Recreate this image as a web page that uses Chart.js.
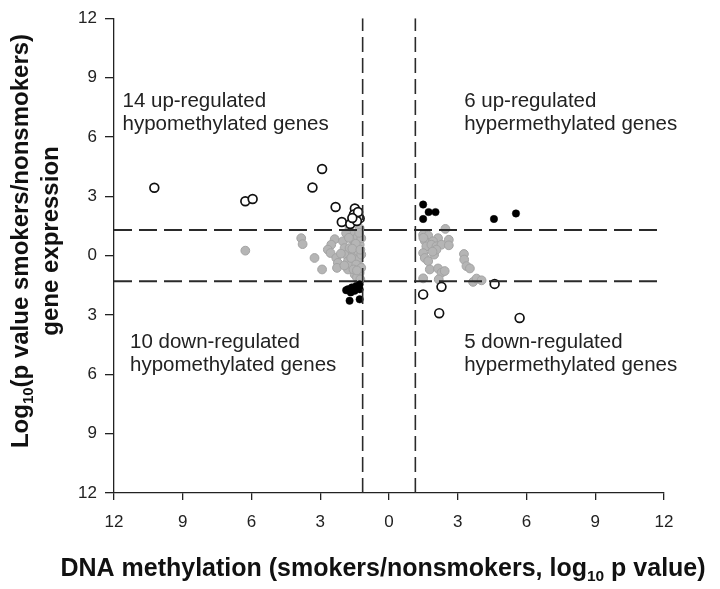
<!DOCTYPE html>
<html>
<head>
<meta charset="utf-8">
<script src="https://cdn.jsdelivr.net/npm/chart.js@4.4.1/dist/chart.umd.min.js"></script>
<style>
html,body{margin:0;padding:0;background:#fff;}
#wrap{width:720px;height:589px;position:relative;}
</style>
</head>
<body>
<div id="wrap"><canvas id="c" width="720" height="589"></canvas></div>
<script>
// ---- data (log10 p values; negative x = hypomethylated, negative y = down-regulated) ----
const axisTicks = [-12, -9, -6, -3, 0, 3, 6, 9, 12];
const methThreshold = 1.15;
const exprThreshold = 1.3;

// open circles: up-regulated hypomethylated (upper left) + down-regulated hypermethylated (lower right)
const openPoints = [
  [-10.24, 3.43], [-6.27, 2.75], [-5.95, 2.86], [-3.34, 3.44], [-2.92, 4.38],
  [-2.33, 2.46], [-1.49, 2.38], [-1.53, 2.08], [-1.28, 1.88], [-2.06, 1.70],
  [-1.69, 1.60], [-1.40, 1.75], [-1.35, 2.20], [-1.60, 1.90],
  [2.29, -1.58], [4.61, -1.43], [1.49, -1.96], [2.19, -2.91], [5.70, -3.15]
];

// black dots: up-regulated hypermethylated (upper right) + down-regulated hypomethylated (lower left)
const blackPoints = [
  [1.49, 2.58], [1.73, 2.20], [2.03, 2.20], [1.49, 1.85], [4.58, 1.85], [5.54, 2.13],
  [-1.79, -1.70], [-1.62, -1.61], [-1.43, -1.53], [-1.28, -1.45], [-1.67, -1.86],
  [-1.50, -1.78], [-1.28, -1.70], [-1.72, -2.28], [-1.28, -2.21], [-1.87, -1.75]
];

// grey dots: not significant
const greyPoints = [
  // right cluster
  [2.46, 1.35], [1.49, 1.05], [1.71, 1.01], [1.56, 0.75], [2.14, 0.88], [1.92, 0.72],
  [2.61, 0.80], [1.63, 0.47], [1.85, 0.55], [2.07, 0.47], [2.29, 0.55], [2.61, 0.52],
  [1.49, 0.13], [1.56, -0.12], [1.71, -0.28], [1.97, 0.05], [3.27, 0.08], [3.28, -0.20],
  [3.38, -0.53], [3.53, -0.65], [1.78, -0.70], [2.14, -0.65], [2.29, -0.87], [2.43, -0.78],
  [1.49, -1.15], [2.17, -1.20], [3.67, -1.33], [3.82, -1.16], [4.04, -1.25], [2.07, 0.30],
  [1.50, 0.90], [1.90, 0.20],
  // left cluster
  [-6.27, 0.25], [-3.83, 0.88], [-3.77, 0.58], [-3.25, -0.12], [-2.92, -0.70], [-2.37, 0.83],
  [-2.52, 0.55], [-2.67, 0.30], [-2.55, 0.13], [-2.30, -0.12], [-2.23, -0.37], [-2.27, -0.62],
  [-2.01, 0.72], [-1.94, 0.38], [-1.87, 0.05], [-1.79, -0.28], [-1.79, -0.70], [-1.72, 1.46],
  [-1.65, 1.13], [-1.57, 0.80], [-1.50, 0.55], [-1.43, 0.22], [-1.36, -0.20], [-1.28, -0.53],
  [-1.28, -0.87], [-1.50, -0.95], [-1.65, -0.45], [-1.57, 0.13], [-1.28, 1.38], [-1.36, 0.96],
  [-1.28, 0.55], [-1.72, 0.38], [-1.87, 1.13], [-1.65, -0.12], [-1.43, -0.45], [-1.36, 0.22],
  [-1.21, 0.88], [-1.21, 0.05], [-1.21, -0.62], [-1.40, -1.10], [-1.25, -1.20], [-1.55, -0.70],
  [-1.45, 0.60], [-1.30, 1.15], [-1.60, 0.35], [-1.95, -0.50], [-2.10, 0.10], [-1.25, 0.30],
  [-1.40, -0.75], [-1.75, 0.90]
];

const quadrantTexts = [
  {x: -11.63, y: 7.8,  lines: ['14 up-regulated', 'hypomethylated genes']},
  {x: 3.28,   y: 7.8,  lines: ['6 up-regulated', 'hypermethylated genes']},
  {x: -11.3,  y: -4.4, lines: ['10 down-regulated', 'hypomethylated genes']},
  {x: 3.28,   y: -4.4, lines: ['5 down-regulated', 'hypermethylated genes']}
];

const toXY = arr => arr.map(p => ({x: p[0], y: p[1]}));
const FONT = '"Liberation Sans", Arial, Helvetica, sans-serif';

const titlePlugin = {
  id: 'titles',
  afterDraw(chart) {
    const ctx = chart.ctx;
    const xs = chart.scales.x, ys = chart.scales.y;
    ctx.save();
    ctx.fillStyle = '#222';
    // quadrant labels
    ctx.font = '20.5px ' + FONT;
    ctx.textAlign = 'left';
    ctx.textBaseline = 'middle';
    quadrantTexts.forEach(q => {
      const px = xs.getPixelForValue(q.x);
      const py = ys.getPixelForValue(q.y);
      q.lines.forEach((l, i) => ctx.fillText(l, px, py + i * 23));
    });

    function segWidth(segs) {
      let w = 0;
      segs.forEach(s => { ctx.font = s.font; w += ctx.measureText(s.t).width; });
      return w;
    }
    function drawSegs(segs, x, y) {
      segs.forEach(s => {
        ctx.font = s.font;
        ctx.fillText(s.t, x, y + (s.dy || 0));
        x += ctx.measureText(s.t).width;
      });
    }
    const big = 'bold 24px ' + FONT;
    const small = 'bold 15px ' + FONT;
    const bigX = 'bold 25px ' + FONT;
    const smallX = 'bold 15.5px ' + FONT;
    ctx.fillStyle = '#111';
    ctx.textAlign = 'left';
    ctx.textBaseline = 'alphabetic';
    // x title
    const xt = [
      {t: 'DNA methylation (smokers/nonsmokers, log', font: bigX},
      {t: '10', font: smallX, dy: 5},
      {t: ' p value)', font: bigX}
    ];
    const xw = segWidth(xt);
    drawSegs(xt, 383 - xw / 2, 576);

    // y title (rotated)
    ctx.save();
    ctx.rotate(-Math.PI / 2);
    const yt1 = [
      {t: 'Log', font: big},
      {t: '10', font: small, dy: 5},
      {t: '(p value smokers/nonsmokers)', font: big}
    ];
    const w1 = segWidth(yt1);
    const cy = 241;
    drawSegs(yt1, -cy - w1 / 2, 28);
    const yt2 = [{t: 'gene expression', font: big}];
    const w2 = segWidth(yt2);
    drawSegs(yt2, -cy - w2 / 2, 58);
    ctx.restore();
    ctx.restore();
  }
};

const lineDash = [18, 7];
const vDash = [15, 6];

new Chart(document.getElementById('c'), {
  type: 'scatter',
  data: {
    datasets: [
      {type: 'line', data: [{x: -12, y: exprThreshold}, {x: 12, y: exprThreshold}], borderColor: '#2a2a2a', borderWidth: 2, borderDash: lineDash, pointRadius: 0, order: 0},
      {type: 'line', data: [{x: -12, y: -exprThreshold}, {x: 12, y: -exprThreshold}], borderColor: '#2a2a2a', borderWidth: 2, borderDash: lineDash, pointRadius: 0, order: 0},
      {type: 'line', data: [{x: -methThreshold, y: -12}, {x: -methThreshold, y: 12}], borderColor: '#2a2a2a', borderWidth: 1.6, borderDash: vDash, pointRadius: 0, order: 0},
      {type: 'line', data: [{x: methThreshold, y: -12}, {x: methThreshold, y: 12}], borderColor: '#2a2a2a', borderWidth: 1.6, borderDash: vDash, pointRadius: 0, order: 0},
      {data: toXY(openPoints), backgroundColor: '#ffffff', borderColor: '#111111', borderWidth: 1.7, pointRadius: 4.4, order: 1},
      {data: toXY(blackPoints), backgroundColor: '#000000', borderColor: '#000000', borderWidth: 0.5, pointRadius: 3.7, order: 2},
      {data: toXY(greyPoints), backgroundColor: '#b5b5b5', borderColor: '#a3a3a3', borderWidth: 1, pointRadius: 4.4, order: 3}
    ]
  },
  options: {
    responsive: false,
    animation: false,
    events: [],
    layout: {padding: {left: 0, right: 56, top: 11, bottom: 0}},
    plugins: {legend: {display: false}, tooltip: {enabled: false}, title: {display: false}},
    scales: {
      x: {
        type: 'linear', min: -12, max: 12,
        afterBuildTicks: s => { s.ticks = axisTicks.map(v => ({value: v})); },
        afterFit: s => { s.height = 96; },
        ticks: {callback: v => String(Math.abs(v)), font: {family: FONT, size: 17}, color: '#222', padding: 12, maxRotation: 0, autoSkip: false},
        grid: {display: true, drawOnChartArea: false, drawTicks: true, tickLength: 7, color: '#222', lineWidth: 1.3},
        border: {display: true, color: '#222', width: 1.3}
      },
      y: {
        type: 'linear', min: -12, max: 12,
        afterBuildTicks: s => { s.ticks = axisTicks.map(v => ({value: v})); },
        afterFit: s => { s.width = 114; },
        ticks: {callback: v => String(Math.abs(v)), font: {family: FONT, size: 17}, color: '#222', padding: 8, autoSkip: false},
        grid: {display: true, drawOnChartArea: false, drawTicks: true, tickLength: 9, color: '#222', lineWidth: 1.3},
        border: {display: true, color: '#222', width: 1.3}
      }
    }
  },
  plugins: [titlePlugin]
});
</script>
</body>
</html>
